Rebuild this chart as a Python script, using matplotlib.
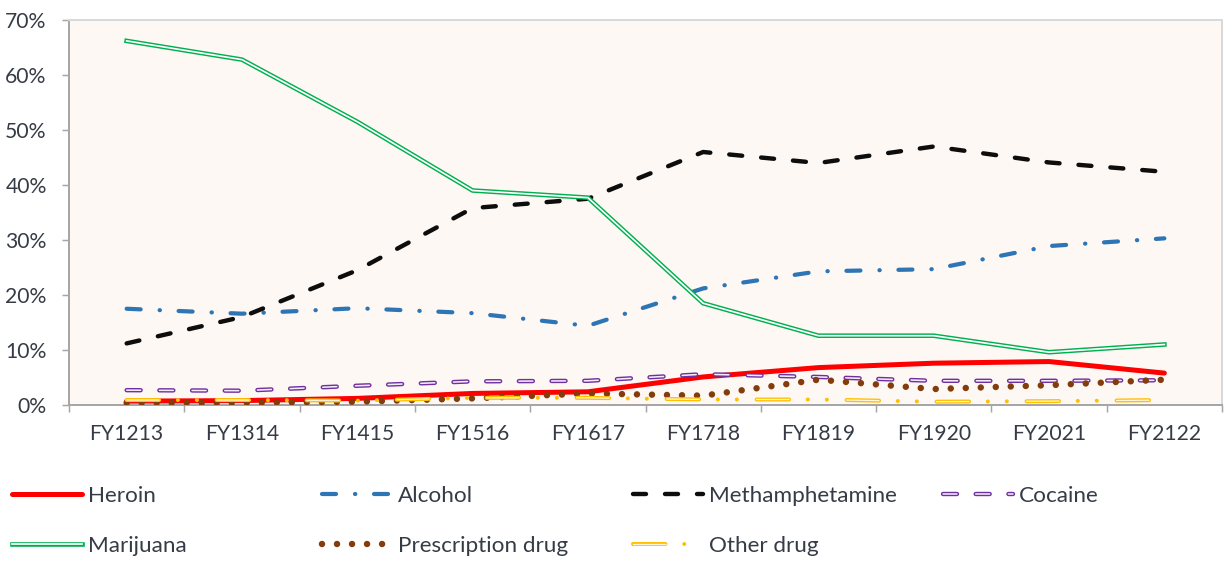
import matplotlib
matplotlib.use("Agg")
import matplotlib.pyplot as plt
from matplotlib.ticker import FuncFormatter, FixedLocator
from matplotlib.legend_handler import HandlerTuple

plt.rcParams['font.family'] = ['Lato', 'DejaVu Sans']
plt.rcParams['lines.scale_dashes'] = False

categories = ["FY1213", "FY1314", "FY1415", "FY1516", "FY1617",
              "FY1718", "FY1819", "FY1920", "FY2021", "FY2122"]
heroin = [0.7, 0.8, 1.2, 2.1, 2.4, 5.1, 6.8, 7.6, 7.9, 5.8]
alcohol = [17.5, 16.6, 17.6, 16.7, 14.4, 21.2, 24.3, 24.7, 28.9, 30.3]
meth = [11.2, 16.0, 24.5, 35.8, 37.5, 46.0, 44.0, 47.0, 44.1, 42.4]
cocaine = [2.7, 2.6, 3.5, 4.3, 4.4, 5.6, 5.1, 4.4, 4.4, 4.5]
marijuana = [66.2, 62.8, 51.5, 39.0, 37.7, 18.5, 12.6, 12.6, 9.6, 11.0]
prescription = [0.4, 0.4, 0.6, 1.2, 2.1, 1.7, 4.6, 2.9, 3.6, 4.6]
other = [0.9, 0.9, 0.8, 1.3, 1.3, 1.0, 1.0, 0.6, 0.7, 0.9]
yticks = [0, 10, 20, 30, 40, 50, 60, 70]

PX = 1 / 1.3889  # one pixel in points at dpi 100
TXT = '#363C46'

fig = plt.figure(figsize=(12.25, 5.61), dpi=100)
ax = fig.add_axes([69 / 1225, 1 - 405 / 561, (1222 - 69) / 1225, 385 / 561])
ax.set_facecolor('#FDF8F4')

x = list(range(len(categories)))

# Heroin
l_her, = ax.plot(x, heroin, color='#FF0000', lw=5 * PX, solid_capstyle='round',
                 solid_joinstyle='round', zorder=3)
# Alcohol
l_alc, = ax.plot(x, alcohol, color='#2E75B6', lw=4.2 * PX, dash_capstyle='round',
                 linestyle=(0, (14 * PX, 19 * PX, 0.3 * PX, 18.7 * PX)), zorder=4)
# Methamphetamine
l_met, = ax.plot(x, meth, color='#0D0D0D', lw=4.4 * PX, dash_capstyle='round',
                 linestyle=(0, (13 * PX, 19 * PX)), zorder=5)
# Cocaine (compound)
coc_pat = (0, (14 * PX, 18.7 * PX))
l_coc_o, = ax.plot(x, cocaine, color='#7030A0', lw=4.4 * PX, dash_capstyle='round',
                   linestyle=coc_pat, zorder=6)
l_coc_i, = ax.plot(x, cocaine, color='#F3ECF8', lw=1.6 * PX, dash_capstyle='round',
                   linestyle=coc_pat, zorder=6.1)
# Marijuana (double line)
l_mar_o, = ax.plot(x, marijuana, color='#00B050', lw=4.6 * PX, solid_joinstyle='miter',
                   zorder=7)
l_mar_i, = ax.plot(x, marijuana, color='#FFFFFF', lw=1.7 * PX, solid_joinstyle='miter',
                   zorder=7.1)
# Prescription drug
l_pre, = ax.plot(x, prescription, color='#843C0C', lw=6.5 * PX, dash_capstyle='round',
                 linestyle=(0, (0.01, 15 * PX)), zorder=8)
# Other drug (compound long dash dot dot)
oth_o = (0, (32.5 * PX, 18.7 * PX, 0.1 * PX, 18.9 * PX, 0.1 * PX, 19.7 * PX))
oth_i = (0, (32.5 * PX, 57.5 * PX))
l_oth_o, = ax.plot(x, other, color='#FFC000', lw=4.0 * PX, dash_capstyle='round',
                   linestyle=oth_o, zorder=9)
l_oth_i, = ax.plot(x, other, color='#FFF6DA', lw=1.3 * PX, dash_capstyle='round',
                   linestyle=oth_i, zorder=9.1)

ax.set_xlim(-0.5, len(categories) - 0.5)
ax.set_ylim(0, 70)
ax.set_yticks(yticks)
ax.yaxis.set_major_formatter(FuncFormatter(lambda v, p: f"{int(v)}%"))
ax.set_xticks(x)
ax.set_xticklabels(categories)
ax.xaxis.set_minor_locator(FixedLocator([i - 0.5 for i in range(len(categories) + 1)]))
TFS = 15.2
ax.tick_params(axis='x', which='major', length=0, pad=14, labelsize=TFS, labelcolor=TXT)
ax.tick_params(axis='x', which='minor', length=7 * PX, width=1.5 * PX, color='#A6A6A6',
               direction='out')
ax.tick_params(axis='y', length=7 * PX, width=1.5 * PX, color='#A6A6A6', pad=11,
               labelsize=TFS, labelcolor=TXT)

for s in ['left', 'bottom']:
    ax.spines[s].set_color('#A6A6A6')
    ax.spines[s].set_linewidth(2 * PX)
for s in ['top', 'right']:
    ax.spines[s].set_color('#D9D9D9')
    ax.spines[s].set_linewidth(2 * PX)

entries = [
    ((l_her,), "Heroin", 12, 496),
    ((l_alc,), "Alcohol", 322, 496),
    ((l_met,), "Methamphetamine", 633, 496),
    ((l_coc_o, l_coc_i), "Cocaine", 943, 496),
    ((l_mar_o, l_mar_i), "Marijuana", 12, 546),
    ((l_pre,), "Prescription drug", 322, 546),
    ((l_oth_o, l_oth_i), "Other drug", 633, 546),
]
fs = 16.2
fs_px = fs * 1.3889
for handles, label, px, py in entries:
    leg = fig.legend([tuple(handles)], [label],
                     handler_map={tuple: HandlerTuple(ndivide=1)},
                     loc='center left', bbox_to_anchor=(px / 1225, 1 - py / 561),
                     frameon=False, fontsize=fs, borderpad=0, borderaxespad=0,
                     handlelength=70 / fs_px, handletextpad=6 / fs_px,
                     labelcolor=TXT)

fig.savefig("out.png", dpi=100)
